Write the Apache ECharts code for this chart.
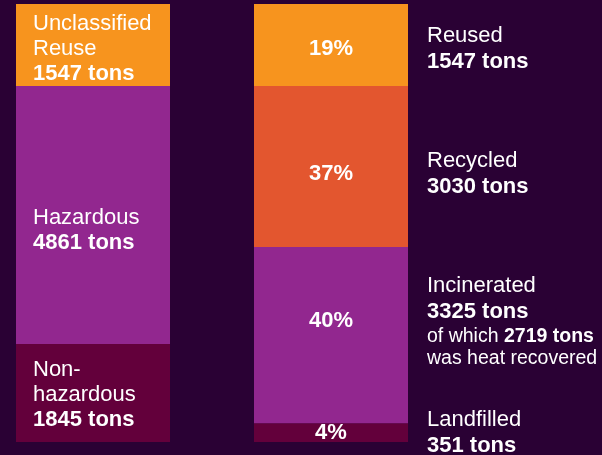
<!DOCTYPE html>
<html>
<head>
<meta charset="utf-8">
<script src="https://cdn.jsdelivr.net/npm/echarts@6/dist/echarts.min.js"></script>
<style>
  html, body { margin: 0; padding: 0; background: #2a0134; }
  #chart { width: 602px; height: 455px; }
</style>
</head>
<body>
<div id="chart"></div>
<script>
  // waste by type (left bar), bottom to top
  const wasteTypes = ['Non-\nhazardous', 'Hazardous', 'Unclassified\nReuse']
  const wasteTons = [1845, 4861, 1547]
  // waste by handling (right bar), bottom to top
  const handling = ['Landfilled', 'Incinerated', 'Recycled', 'Reused']
  const handlingTons = [351, 3325, 3030, 1547]
  const handlingPct = [4, 40, 37, 19]
  const heatRecovered = 2719

  const leftColors = ['#63003b', '#92278f', '#f7941e']
  const rightColors = ['#63003b', '#92278f', '#e3562f', '#f7941e']
  const leftOffsets = [2, 15, 4]
  const rightOffsets = [0, -14, 7, 4]
  const total = wasteTons.reduce((a, b) => a + b, 0)
  const font = 'Liberation Sans, Arial, sans-serif'

  const series = []
  wasteTypes.forEach((name, i) => {
    const lines = name.split('\n').map(l => '{n|' + l + '}').join('\n')
    series.push({
      type: 'bar',
      name: name,
      stack: 'type',
      xAxisIndex: 0,
      yAxisIndex: 0,
      barWidth: '100%',
      itemStyle: { color: leftColors[i] },
      label: {
        show: true,
        position: 'insideLeft',
        distance: 17,
        offset: [0, leftOffsets[i]],
        formatter: lines + '\n{t|' + wasteTons[i] + ' tons}',
        rich: {
          n: { color: '#fff', fontSize: 22, fontFamily: font, lineHeight: 25 },
          t: { color: '#fff', fontSize: 22, fontWeight: 'bold', fontFamily: font, lineHeight: 25 }
        }
      },
      data: [wasteTons[i]]
    })
  })
  handling.forEach((name, i) => {
    series.push({
      type: 'bar',
      name: name,
      stack: 'handling',
      xAxisIndex: 1,
      yAxisIndex: 1,
      barWidth: '100%',
      barGap: '-100%',
      itemStyle: { color: rightColors[i] },
      label: {
        show: true,
        position: 'inside',
        offset: [0, rightOffsets[i]],
        formatter: handlingPct[i] + '%',
        color: '#fff',
        fontSize: 22,
        fontWeight: 'bold',
        fontFamily: font
      },
      data: [handlingTons[i]]
    })
  })
  // transparent twin of the right bar, carrying the side labels
  handling.forEach((name, i) => {
    let text = '{n|' + name + '}\n{t|' + handlingTons[i] + ' tons}'
    if (name === 'Incinerated') {
      text += '\n{s|of which }{sb|' + heatRecovered + ' tons}\n{s|was heat recovered}'
    }
    series.push({
      type: 'bar',
      name: name + ' label',
      stack: 'side',
      xAxisIndex: 1,
      yAxisIndex: 1,
      barWidth: '100%',
      barGap: '-100%',
      silent: true,
      itemStyle: { color: 'transparent' },
      label: {
        show: true,
        position: 'right',
        distance: 19,
        offset: [0, rightOffsets[i]],
        formatter: text,
        rich: {
          n: { color: '#fff', fontSize: 22, fontFamily: font, lineHeight: 26 },
          t: { color: '#fff', fontSize: 22, fontWeight: 'bold', fontFamily: font, lineHeight: 26 },
          s: { color: '#fff', fontSize: 19.5, fontFamily: font, lineHeight: 22 },
          sb: { color: '#fff', fontSize: 19.5, fontWeight: 'bold', fontFamily: font, lineHeight: 22 }
        }
      },
      data: [handlingTons[i]]
    })
  })

  const chart = echarts.init(document.getElementById('chart'))
  chart.setOption({
    backgroundColor: '#2a0134',
    animation: false,
    grid: [
      { left: 16, top: 4, width: 154, height: 438 },
      { left: 254, top: 4, width: 154, height: 438 }
    ],
    xAxis: [
      { gridIndex: 0, type: 'category', data: ['type'], show: false },
      { gridIndex: 1, type: 'category', data: ['handling'], show: false }
    ],
    yAxis: [
      { gridIndex: 0, type: 'value', min: 0, max: total, show: false },
      { gridIndex: 1, type: 'value', min: 0, max: total, show: false }
    ],
    series: series
  })
</script>
</body>
</html>
